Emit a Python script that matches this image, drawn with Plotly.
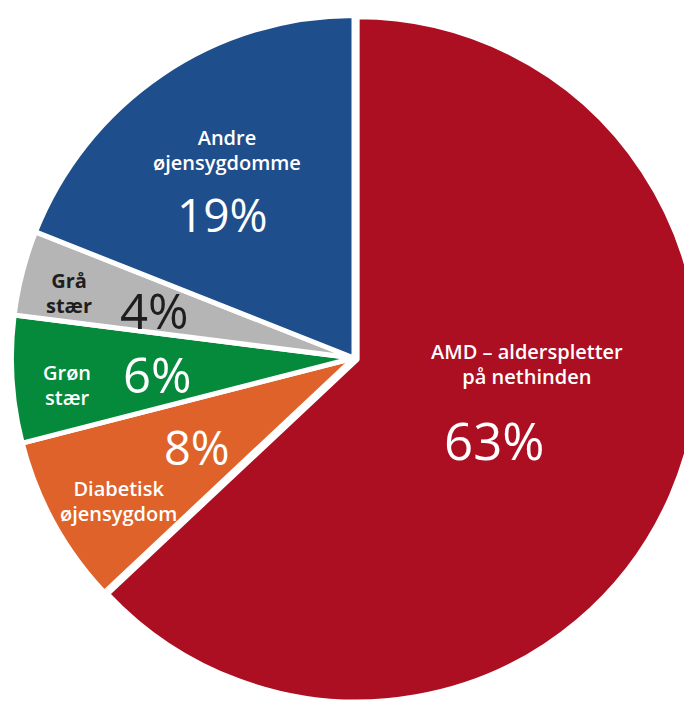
import plotly.graph_objects as go

# Data
categories = ["AMD – aldersplettet på nethinden", "Diabetisk øjensygdom", "Grøn stær", "Grå stær", "Andre øjensygdomme"]
values = [63, 8, 6, 4, 19]
slice_colors = ["#AC0E22", "#DE6229", "#058A3C", "#B5B5B5", "#1F4E8C"]
pulls = [0.01, 0, 0, 0, 0]

# Label lines drawn on the slices
label_lines = [["AMD – alderspletter", "på nethinden"],
               ["Diabetisk", "øjensygdom"],
               ["Grøn", "stær"],
               ["Grå", "stær"],
               ["Andre", "øjensygdomme"]]
pct_texts = [f"{v}%" for v in values]

W, H = 692, 702
OFF = 8  # page body margin offset in the browser

fig = go.Figure(go.Pie(
    labels=categories,
    values=values,
    sort=False,
    direction="clockwise",
    rotation=0,
    pull=pulls,
    marker=dict(colors=slice_colors, line=dict(color="white", width=5)),
    textinfo="none",
    hoverinfo="label+percent",
    showlegend=False,
    domain=dict(x=[0, 1], y=[6 / H, 698 / H]),
))

# annotation placement (screen pixels) — layout only
label_pos = [(527, 364), (118, 501), (67, 385), (69, 293), (227, 150)]
label_col = ["white", "white", "white", "#1e1e1e", "white"]
label_size = [20, 20, 20, 20, 20]
label_weight = [600, 600, 600, 700, 600]
pct_pos = [(494, 440), (197, 447), (157, 374), (154, 310), (222, 214)]
pct_col = ["white", "white", "white", "#1e1e1e", "white"]
pct_size = [51, 47, 49, 49, 46]


def px(x, y):
    return (x - OFF) / W, 1 - (y - OFF) / H


annotations = []
for i in range(len(values)):
    ax, ay = px(*label_pos[i])
    txt = "<br>".join(f'<span style="font-size:{label_size[i]}px">{ln}</span>' for ln in label_lines[i])
    annotations.append(dict(
        x=ax, y=ay, xref="paper", yref="paper",
        text=txt, showarrow=False, xanchor="center", yanchor="middle", align="center",
        font=dict(family="Open Sans", size=19, color=label_col[i], weight=label_weight[i]),
    ))
    ax, ay = px(*pct_pos[i])
    annotations.append(dict(
        x=ax, y=ay, xref="paper", yref="paper",
        text=pct_texts[i], showarrow=False, xanchor="center", yanchor="middle",
        font=dict(family="Open Sans", size=pct_size[i], color=pct_col[i], weight=400),
    ))

fig.update_layout(
    width=W, height=H,
    margin=dict(l=0, r=0, t=0, b=0),
    paper_bgcolor="white",
    plot_bgcolor="white",
    annotations=annotations,
)

fig.write_html("out.html")
